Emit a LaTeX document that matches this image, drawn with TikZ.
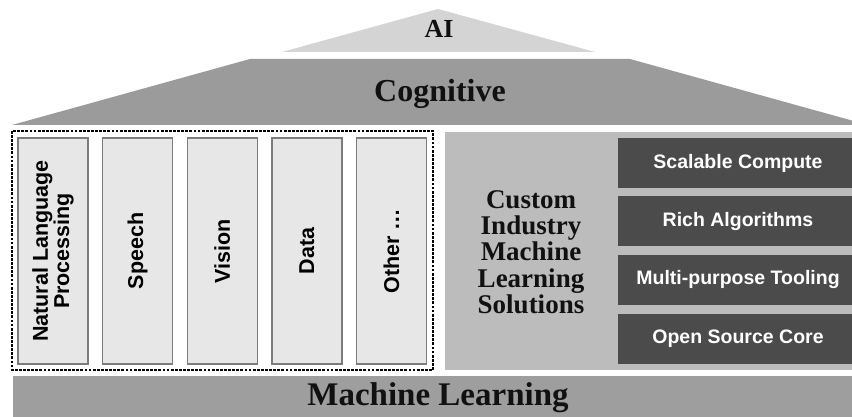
\documentclass[tikz,border=0pt]{standalone}
\usepackage{fontspec}
\setmainfont{Liberation Serif}
\setsansfont{Liberation Sans}
\definecolor{roofink}{HTML}{111111}
\definecolor{aigrey}{HTML}{D4D4D4}
\definecolor{roofgrey}{HTML}{9B9B9B}
\definecolor{basegrey}{HTML}{9E9E9E}
\definecolor{panelgrey}{HTML}{BCBCBC}
\definecolor{pillarfill}{HTML}{E7E7E7}
\definecolor{pillaredge}{HTML}{7C7C7C}
\definecolor{slabgrey}{HTML}{4B4B4B}

\begin{document}
\begin{tikzpicture}[x=1pt,y=1pt,
  headtext/.style={anchor=base,text=roofink,inner sep=0pt},
  pillar/.style={draw=pillaredge,fill=pillarfill,line width=1.4pt,rotate=90,
    minimum width=226pt,minimum height=70pt,inner sep=0pt,align=center,
    font=\sffamily\bfseries\fontsize{21.5}{19}\selectfont},
  slab/.style={fill=slabgrey,text=white,minimum width=240pt,minimum height=50pt,
    inner sep=0pt,font=\sffamily\bfseries\fontsize{19.5}{22}\selectfont}]
        \useasboundingbox (0,0) rectangle (852,417);
        \fill[white] (0,0) rectangle (852,417);
        \clip (0,0) rectangle (852,417);

        \fill[aigrey] (282,365) -- (438,408) -- (595,365) -- cycle;
        \node[headtext,font=\bfseries\fontsize{26}{28}\selectfont] (ai) at (439,379) {AI};

        \fill[roofgrey] (250,358) -- (630,358) -- (868,292) -- (12,292) -- cycle;
        \node[headtext,font=\bfseries\fontsize{32}{36}\selectfont] (cognitive) at (440,315) {Cognitive};

        \draw[line width=2pt,dash pattern=on 2.8pt off 1.3pt] (12,286) rectangle (433,47);
        \node[pillar] (nlp) at (53.0,166) {Natural Language\\Processing};
        \node[pillar] (speech) at (137.6,166) {Speech};
        \node[pillar] (vision) at (222.2,166) {Vision};
        \node[pillar] (data) at (306.8,166) {Data};
        \node[pillar] (other) at (391.4,166) {Other \dots};

        \fill[panelgrey] (445,285) rectangle (852,47);
        \node[align=center,text=roofink,inner sep=0pt,
          font=\bfseries\fontsize{27}{26.3}\selectfont] (custom) at (531,165)
          {Custom\\Industry\\Machine\\Learning\\Solutions};

        \node[slab] (compute) at (738,254) {Scalable Compute};
        \node[slab] (algorithms) at (738,195.5) {Rich Algorithms};
        \node[slab] (tooling) at (738,137) {Multi-purpose Tooling};
        \node[slab] (core) at (738,78) {Open Source Core};

        \fill[basegrey] (13,41) rectangle (852,0);
        \node[headtext,font=\bfseries\fontsize{33}{36}\selectfont] (ml) at (438,11) {Machine Learning};
      \end{tikzpicture}
\end{document}
